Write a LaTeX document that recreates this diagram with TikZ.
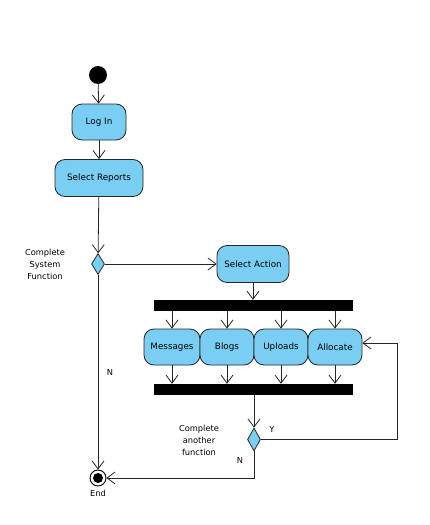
\documentclass[tikz,border=0pt]{standalone}
\usepackage{fontspec}
\setmainfont{DejaVu Sans}
\usepackage{tikz}
\usetikzlibrary{
  arrows.meta, positioning, shapes.geometric, calc
}
\usepackage{xcolor}
\definecolor{actblue}{HTML}{7ACEF4}

\tikzset{
  act/.style={draw=black!85, fill=actblue, rounded corners=10pt, line width=0.8pt,
    minimum height=36pt, inner sep=1pt, font=\fontsize{8.8}{10}\selectfont},
  bar/.style={fill=black, minimum width=199pt, minimum height=11pt, inner sep=0pt},
  decision/.style={diamond, draw=black!85, fill=actblue, line width=0.8pt,
    minimum width=13pt, minimum height=21pt, inner sep=0pt},
  flow/.style={draw=black!85, line width=0.8pt, -{Straight Barb[length=8pt, width=12pt]}},
  lbl/.style={font=\fontsize{8.3}{12}\selectfont, align=center}
}

\begin{document}
\begin{tikzpicture}[x=1pt, y=-1pt]
    \useasboundingbox (0,0) rectangle (429,525);
    % start and first steps
    \node[circle, fill=black, minimum size=18pt, inner sep=0pt] (start) at (98,75) {};
    \node[act, minimum width=54pt] (login) at (99,122) {Log In};
    \node[act, minimum width=88pt, minimum height=37pt] (reports) at (99,178) {Select Reports};
    \node[decision] (sysfn) at (98,264) {};
    \node[lbl] (sysfnlbl) at (45,264) {Complete\\System\\Function};
    \node[act, minimum width=72pt, minimum height=37pt] (action) at (253,264) {Select Action};

    % fork / join
    \node[bar] (fork) at (253.5,305.5) {};
    \node[act, minimum width=56pt] (messages) at (172,347) {Messages};
    \node[act, minimum width=54pt] (blogs) at (227,347) {Blogs};
    \node[act, minimum width=54pt] (uploads) at (281,347) {Uploads};
    \node[act, minimum width=54pt] (allocate) at (335,347) {Allocate};
    \node[bar] (join) at (253.5,389.5) {};

    \node[decision, minimum height=23pt] (another) at (254,439.5) {};
    \node[lbl] (anotherlbl) at (199,440) {Complete\\another\\function};
    \coordinate (loop) at (397,343);

    % end node
    \node[circle, draw=black, line width=0.9pt, minimum size=16pt, inner sep=0pt] (end) at (98,478) {};
    \node[circle, fill=black, minimum size=10pt, inner sep=0pt] (endin) at (98,478) {};
    \node[lbl, below=0pt of end] (endlbl) {End};

    % connectors
    \draw[flow] (start) -- (login);
    \draw[flow] (login) -- (reports);
    \draw[flow] (reports) -- (sysfn);
    \draw[flow] (sysfn.east) -- (action.west);
    \draw[flow] (action.south) -- (action |- fork.north);
    \foreach \a in {messages, blogs, uploads, allocate} {
      \draw[flow] (\a |- fork.south) -- (\a.north);
      \draw[flow] (\a.south) -- (\a |- join.north);
    }
    \draw[flow] (another |- join.south) -- (another.north);
    \draw[flow] (another.east) -| (loop) -- (allocate.east |- loop);
    \node[lbl] (yes) at (272,429) {Y};
    \draw[flow] (another.south) |- (end.east);
    \node[lbl] (no2) at (240,460) {N};
    \draw[flow] (sysfn.south) -- (end.north);
    \node[lbl] (no1) at (110,372) {N};
\end{tikzpicture}
\end{document}
